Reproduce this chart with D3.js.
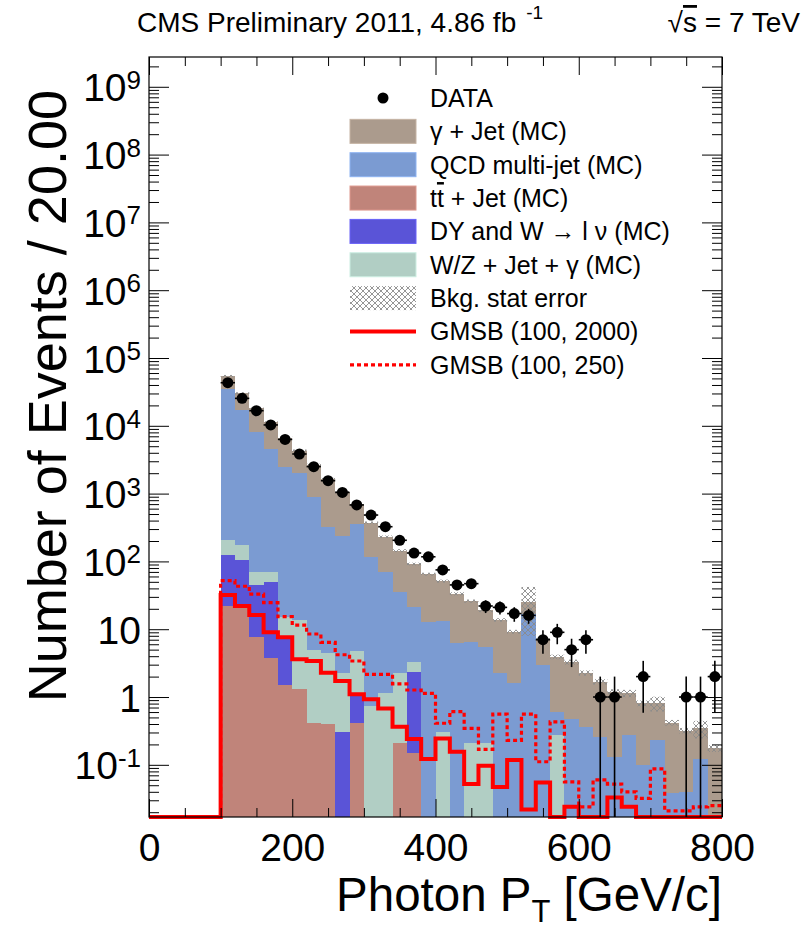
<!DOCTYPE html>
<html>
<head>
<meta charset="utf-8">
<script src="https://cdn.jsdelivr.net/npm/d3@7"></script>
<style>
  body { margin: 0; background: #fff; }
  text { font-family: "Liberation Sans", Arial, Helvetica, sans-serif; fill: #000; }
</style>
</head>
<body>
<svg id="chart" width="809" height="930"></svg>
<script>
// ---- binning (photon pT, 20 GeV bins) ----
const binLow = [0,20,40,60,80,100,120,140,160,180,200,220,240,260,280,300,320,340,360,380,
                400,420,440,460,480,500,520,540,560,580,600,620,640,660,680,700,720,740,760,780];
const xMax = 800;

// ---- stacked backgrounds (events per bin) ----
const ttbar    = [0,0,0,0,0, 22,22,7.7,3.7,1.5, 1.31,0.42,0.40,0,0.42, 0,0,0.21,0.148,0,
                  0,0,0,0,0, 0,0,0,0,0, 0,0,0,0,0, 0,0,0,0,0];
const dyW      = [0,0,0,0,0, 104,84,37,46,5.8, 0,0,0,0.30,0.63, 0,0,0,2.2,0,
                  0,0,0,0,0, 0,0,0,0,0, 0,0,0,0,0, 0,0,0,0,0];
const wzGamma  = [0,0,0,0,0, 81,68,25,20,7.7, 12.4,4.5,4.0,1.94,3.75, 0.74,1.14,2.03,0.94,0,
                  0.31,0,0.21,0.21,0, 0,0,0,0.275,0, 0,0,0,0,0, 0,0,0,0,0];
const qcd      = [0,0,0,0,0, 34300,17100,8130,4430,2425, 1986,895,321,238,355, 115,69,33.5,18.1,12.9,
                  13.0,6.3,6.3,5.3,2.24, 1.6,17,3.0,0.335,0.48, 0.365,0.26,0.132,0.275,0.10, 0.23,0.039,0.040,0.12,0];
const gammaJet = [0,0,0,0,0, 19700,12800,9800,6700,4260, 2300,1750,1315,810,340, 256,161,109,70,52,
                  38,27,19.5,13.5,11.5, 7.6,8,4.0,3.3,2.8, 1.9,1.42,1.07,0.86,0.71, 0.58,0.38,0.28,0.225,0.175];
// statistical uncertainty on the summed background
const bkgErr   = [0,0,0,0,0, 2000,1200,700,450,270, 170,110,65,42,28, 16,10,7,4.5,3.2,
                  2.6,1.8,1.4,1.1,0.8, 0.6,17,0.5,0.3,0.28, 0.2,0.15,0.1,0.14,0.08, 0.2,0.04,0.03,0.1,0.02];

// ---- observed data ----
const dataCounts = [0,0,0,0,0, 43200,25400,16700,10300,6300, 3840,2500,1550,1040,680, 483,325,205,133,117,
                    75,45,47,22,21, 17,16,7,9,5, 7,1,1,0,2, 0,0,1,1,2];

// ---- signal benchmarks ----
const gmsb2000 = [0,0,0,0,0, 32,22,16.2,9.0,7.6, 3.6,3.4,2.28,1.72,1.1, 0.93,0.68,0.365,0.24,0.122,
                  0.245,0.156,0.052,0.097,0.047, 0.118,0.022,0.055,0,0.024, 0,0,0.033,0.024,0, 0,0,0,0,0];
const gmsb250  = [0,0,0,0,0, 52,43,33,24.6,15.3, 11.5,8.5,6.4,4.2,3.4, 2.16,2.16,1.56,1.27,1.13,
                  0.41,0.61,0.345,0.169,0.56, 0.23,0.56,0.111,0.43,0.056, 0.024,0.06,0.052,0.04,0.032, 0.087,0.021,0.021,0.024,0.025];

// ---- axes ----
const xMajorTicks = [0,200,400,600,800];
const xMinorTicks = [50,100,150,250,300,350,450,500,550,650,700,750];
const yDecades = [-1,0,1,2,3,4,5,6,7,8,9];
const yMin = 0.017, yMax = 2.75e9;

// ---- legend ----
const legendEntries = [
  {key: "data"},
  {key: "gammaJet", label: [["γ + Jet (MC)"]]},
  {key: "qcd",      label: [["QCD multi-jet (MC)"]]},
  {key: "ttbar",    label: [["t"],["t","over"],[" + Jet (MC)"]]},
  {key: "dyW",      label: [["DY and W → l ν (MC)"]]},
  {key: "wzGamma",  label: [["W/Z + Jet + γ (MC)"]]},
  {key: "err",      label: [["Bkg. stat error"]]},
  {key: "gmsb2000", label: [["GMSB (100, 2000)"]]},
  {key: "gmsb250",  label: [["GMSB (100, 250)"]]}
];

const colors = {
  gammaJet: "#ab9b8d",
  qcd: "#7b9bd2",
  wzGamma: "#b1cec4",
  dyW: "#5a54d7",
  ttbar: "#c0847a",
  signal: "#ff0000"
};

// ---- layout ----
const frame = {left: 149, right: 722, top: 57, bottom: 817};
const svg = d3.select("#chart");
const x = d3.scaleLinear().domain([0, xMax]).range([frame.left, frame.right]);
const y = d3.scaleLog().domain([yMin, yMax]).range([frame.bottom, frame.top]);
const yc = v => y(Math.max(v, yMin));

const defs = svg.append("defs");
const hatch = defs.append("pattern").attr("id", "hatch")
  .attr("patternUnits", "userSpaceOnUse").attr("width", 6).attr("height", 6);
hatch.append("path").attr("d", "M0,0L6,6M6,0L0,6M-1,5L1,7M5,-1L7,1M-1,1L1,-1M5,7L7,5")
  .attr("stroke", "#8a8a8a").attr("stroke-width", 0.9).attr("fill", "none");

// bins as rows for the stack
const rows = binLow.map((lo, i) => ({
  lo, hi: i < binLow.length - 1 ? binLow[i + 1] : xMax,
  ttbar: ttbar[i], dyW: dyW[i], wzGamma: wzGamma[i], qcd: qcd[i], gammaJet: gammaJet[i],
  err: bkgErr[i], data: dataCounts[i]
}));
const stackKeys = ["ttbar", "dyW", "wzGamma", "qcd", "gammaJet"];
const layers = d3.stack().keys(stackKeys)(rows);

// stacked histograms: outermost layer first so inner ones paint over it
const gStack = svg.append("g").attr("shape-rendering", "crispEdges");
layers.slice().reverse().forEach(layer => {
  gStack.append("g").attr("fill", colors[layer.key])
    .selectAll("rect")
    .data(layer.filter(d => d[1] > yMin))
    .join("rect")
    .attr("x", d => x(d.data.lo))
    .attr("width", d => x(d.data.hi) - x(d.data.lo))
    .attr("y", d => yc(d[1]))
    .attr("height", d => frame.bottom - yc(d[1]));
});

// background stat error band
const total = rows.map(r => r.ttbar + r.dyW + r.wzGamma + r.qcd + r.gammaJet);
svg.append("g").selectAll("rect")
  .data(rows.map((r, i) => ({r, t: total[i]})).filter(d => d.t > 0))
  .join("rect")
  .attr("x", d => x(d.r.lo))
  .attr("width", d => x(d.r.hi) - x(d.r.lo))
  .attr("y", d => yc(d.t + d.r.err))
  .attr("height", d => yc(d.t - d.r.err) - yc(d.t + d.r.err))
  .attr("fill", "url(#hatch)");

// signal step lines
const step = d3.line().x(d => x(d[0])).y(d => yc(d[1])).curve(d3.curveStepAfter);
function stepPoints(vals) {
  const pts = rows.map((r, i) => [r.lo, vals[i]]);
  pts.push([xMax, vals[vals.length - 1]]);
  return pts;
}
svg.append("path").attr("d", step(stepPoints(gmsb250)))
  .attr("fill", "none").attr("stroke", colors.signal).attr("stroke-width", 3.2)
  .attr("stroke-dasharray", "4,3");
svg.append("path").attr("d", step(stepPoints(gmsb2000)))
  .attr("fill", "none").attr("stroke", colors.signal).attr("stroke-width", 4);

// data points with Poisson errors
const pts = rows.filter(r => r.data > 0);
const gData = svg.append("g");
gData.selectAll("line.v").data(pts).join("line").attr("class", "v")
  .attr("x1", d => x((d.lo + d.hi) / 2)).attr("x2", d => x((d.lo + d.hi) / 2))
  .attr("y1", d => yc(d.data + Math.sqrt(d.data)))
  .attr("y2", d => yc(d.data - Math.sqrt(d.data)))
  .attr("stroke", "#000").attr("stroke-width", 1.6);
gData.selectAll("line.h").data(pts).join("line").attr("class", "h")
  .attr("x1", d => x(d.lo)).attr("x2", d => x(d.hi))
  .attr("y1", d => yc(d.data)).attr("y2", d => yc(d.data))
  .attr("stroke", "#000").attr("stroke-width", 1.6);
gData.selectAll("circle").data(pts).join("circle")
  .attr("cx", d => x((d.lo + d.hi) / 2)).attr("cy", d => yc(d.data))
  .attr("r", 5.5).attr("fill", "#000");

// ---- axes (ticks point into the frame) ----
const yMinor = [];
for (let k = -2; k <= 9; k++) for (let m = 2; m <= 9; m++) {
  const v = m * Math.pow(10, k);
  if (v > yMin && v < yMax) yMinor.push(v);
}
const yMajor = yDecades.map(k => Math.pow(10, k));

function styleAxis(g) {
  g.selectAll("line").attr("stroke", "#000").attr("stroke-width", 1);
  g.select(".domain").remove();
}

// left
svg.append("g").attr("transform", `translate(${frame.left},0)`)
  .call(d3.axisLeft(y).tickValues(yMinor).tickSizeInner(-10).tickSizeOuter(0).tickFormat(""))
  .call(styleAxis);
const yAxisG = svg.append("g").attr("transform", `translate(${frame.left},0)`)
  .call(d3.axisLeft(y).tickValues(yMajor).tickSizeInner(-20).tickSizeOuter(0).tickPadding(8).tickFormat(""))
  .call(styleAxis);
yAxisG.selectAll(".tick text").each(function(v, i) {
  const k = yDecades[i];
  const t = d3.select(this).attr("font-size", 39).attr("fill", "#000");
  t.text(null);
  if (k === 0) t.text("1");
  else if (k === 1) t.text("10");
  else {
    t.append("tspan").text("10");
    t.append("tspan").attr("dy", "-0.48em").attr("font-size", 26).text(String(k));
  }
});
yAxisG.selectAll(".tick text").attr("dy", "0.36em");

// right
svg.append("g").attr("transform", `translate(${frame.right},0)`)
  .call(d3.axisRight(y).tickValues(yMinor).tickSizeInner(-10).tickSizeOuter(0).tickFormat(""))
  .call(styleAxis);
svg.append("g").attr("transform", `translate(${frame.right},0)`)
  .call(d3.axisRight(y).tickValues(yMajor).tickSizeInner(-20).tickSizeOuter(0).tickFormat(""))
  .call(styleAxis);

// bottom
svg.append("g").attr("transform", `translate(0,${frame.bottom})`)
  .call(d3.axisBottom(x).tickValues(xMinorTicks).tickSizeInner(-9).tickSizeOuter(0).tickFormat(""))
  .call(styleAxis);
const xAxisG = svg.append("g").attr("transform", `translate(0,${frame.bottom})`)
  .call(d3.axisBottom(x).tickValues(xMajorTicks).tickSizeInner(-18).tickSizeOuter(0).tickPadding(16).tickFormat(d3.format("d")))
  .call(styleAxis);
xAxisG.selectAll(".tick text").attr("font-size", 39).attr("fill", "#000")
  .attr("font-family", '"Liberation Sans", Arial, sans-serif');

// top
svg.append("g").attr("transform", `translate(0,${frame.top})`)
  .call(d3.axisTop(x).tickValues(xMinorTicks).tickSizeInner(-9).tickSizeOuter(0).tickFormat(""))
  .call(styleAxis);
svg.append("g").attr("transform", `translate(0,${frame.top})`)
  .call(d3.axisTop(x).tickValues(xMajorTicks).tickSizeInner(-18).tickSizeOuter(0).tickFormat(""))
  .call(styleAxis);

// frame
svg.append("rect").attr("x", frame.left).attr("y", frame.top)
  .attr("width", frame.right - frame.left).attr("height", frame.bottom - frame.top)
  .attr("fill", "none").attr("stroke", "#000").attr("stroke-width", 1.2);

// ---- titles ----
const xt = svg.append("text").attr("x", frame.right).attr("y", 911)
  .attr("text-anchor", "end").attr("font-size", 47.5);
xt.append("tspan").text("Photon P");
xt.append("tspan").attr("dy", 11).attr("font-size", 31).text("T");
xt.append("tspan").attr("dy", -11).text(" [GeV/c]");

svg.append("text").attr("transform", "translate(66,90) rotate(-90)")
  .attr("text-anchor", "end").attr("font-size", 54).text("Number of Events / 20.00");

const h1 = svg.append("text").attr("x", 137).attr("y", 32).attr("font-size", 28);
h1.append("tspan").text("CMS Preliminary 2011, 4.86 fb");
h1.append("tspan").attr("dx", 10).attr("dy", -13).attr("font-size", 19).text("-1");

const h2 = svg.append("text").attr("x", 800).attr("y", 32).attr("text-anchor", "end").attr("font-size", 28);
h2.append("tspan").text("√");
h2.append("tspan").style("text-decoration", "overline").text("s");
h2.append("tspan").text(" = 7 TeV");

// ---- legend ----
const leg = svg.append("g");
const rowY0 = 98, rowStep = 33.35, swX = 350, swW = 66, swH = 24, txtX = 430;
legendEntries.forEach((e, i) => {
  const cy = rowY0 + i * rowStep;
  if (e.key === "data") {
    leg.append("circle").attr("cx", swX + swW / 2).attr("cy", cy).attr("r", 5.5).attr("fill", "#000");
    leg.append("text").attr("x", txtX).attr("y", cy + 9).attr("font-size", 25).text("DATA");
    return;
  }
  if (colors[e.key]) {
    leg.append("rect").attr("x", swX).attr("y", cy - swH / 2).attr("width", swW).attr("height", swH)
      .attr("fill", colors[e.key]).attr("stroke", d3.color(colors[e.key]).brighter(0.4)).attr("stroke-width", 1);
  } else if (e.key === "err") {
    leg.append("rect").attr("x", swX).attr("y", cy - swH / 2).attr("width", swW).attr("height", swH)
      .attr("fill", "url(#hatch)");
  } else if (e.key === "gmsb2000") {
    leg.append("line").attr("x1", swX).attr("x2", swX + swW).attr("y1", cy).attr("y2", cy)
      .attr("stroke", colors.signal).attr("stroke-width", 4);
  } else if (e.key === "gmsb250") {
    leg.append("line").attr("x1", swX).attr("x2", swX + swW).attr("y1", cy).attr("y2", cy)
      .attr("stroke", colors.signal).attr("stroke-width", 3.2).attr("stroke-dasharray", "4,3");
  }
  const t = leg.append("text").attr("x", txtX).attr("y", cy + 9).attr("font-size", 25);
  e.label.forEach(([s, deco]) => {
    const sp = t.append("tspan").text(s);
    if (deco === "over") sp.style("text-decoration", "overline");
  });
});
</script>
</body>
</html>
